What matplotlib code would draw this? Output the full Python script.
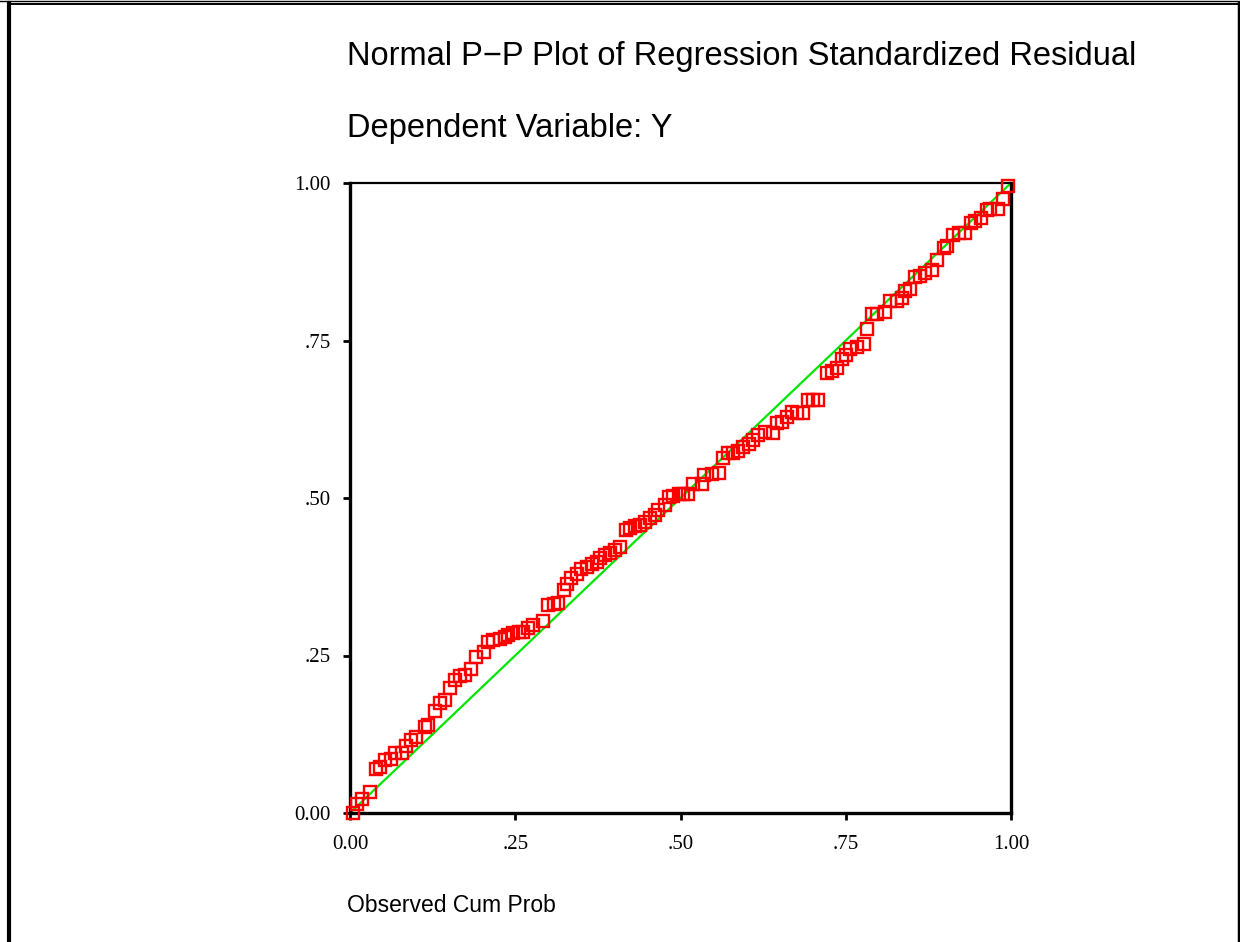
"""
Normal P-P plot of regression standardized residual (SPSS style).
"""
import matplotlib
matplotlib.use("Agg")
import matplotlib.pyplot as plt
from matplotlib.lines import Line2D

# --------------------------- Data --------------------------- #
obs_cum_prob = [
    0.004, 0.011, 0.018, 0.031, 0.039, 0.045, 0.053, 0.062, 0.068, 0.078,
    0.085, 0.092, 0.100, 0.113, 0.118, 0.129, 0.136, 0.144, 0.151, 0.159,
    0.166, 0.174, 0.183, 0.191, 0.202, 0.209, 0.217, 0.227, 0.234, 0.239,
    0.247, 0.255, 0.262, 0.270, 0.277, 0.292, 0.300, 0.308, 0.315,
    0.323, 0.328, 0.335, 0.343, 0.350, 0.358, 0.366, 0.373, 0.378, 0.386,
    0.393, 0.401, 0.408, 0.418, 0.424, 0.431, 0.439, 0.446, 0.454, 0.461,
    0.466, 0.477, 0.482, 0.489, 0.497, 0.504, 0.512, 0.519, 0.532, 0.536,
    0.547, 0.559, 0.565, 0.572, 0.580, 0.587, 0.595, 0.603, 0.610, 0.618,
    0.628, 0.640, 0.646, 0.653, 0.661, 0.668, 0.676, 0.686, 0.693, 0.701,
    0.708, 0.721, 0.729, 0.737, 0.744, 0.751, 0.756, 0.767, 0.777, 0.782,
    0.790, 0.797, 0.809, 0.817, 0.827, 0.835, 0.840, 0.847, 0.855, 0.862,
    0.870, 0.880, 0.888, 0.898, 0.903, 0.912, 0.921, 0.930, 0.940, 0.946,
    0.955, 0.963, 0.968, 0.981, 0.988, 0.996,
]
exp_cum_prob = [
    0.000, 0.014, 0.022, 0.034, 0.070, 0.073, 0.084, 0.085, 0.095, 0.095,
    0.107, 0.116, 0.120, 0.136, 0.140, 0.162, 0.174, 0.179, 0.198, 0.211,
    0.217, 0.219, 0.228, 0.248, 0.256, 0.272, 0.275, 0.276, 0.280, 0.283,
    0.286, 0.287, 0.288, 0.293, 0.298, 0.305, 0.330, 0.332, 0.333,
    0.354, 0.363, 0.373, 0.380, 0.388, 0.391, 0.395, 0.399, 0.404, 0.410,
    0.412, 0.417, 0.423, 0.450, 0.453, 0.455, 0.457, 0.462, 0.468, 0.473,
    0.481, 0.489, 0.501, 0.503, 0.506, 0.507, 0.507, 0.523, 0.523, 0.537,
    0.538, 0.539, 0.563, 0.571, 0.572, 0.574, 0.581, 0.586, 0.592, 0.600,
    0.604, 0.603, 0.619, 0.621, 0.629, 0.637, 0.635, 0.635, 0.656, 0.656,
    0.656, 0.699, 0.702, 0.706, 0.720, 0.727, 0.737, 0.740, 0.745, 0.768,
    0.792, 0.792, 0.795, 0.812, 0.813, 0.817, 0.828, 0.831, 0.851, 0.852,
    0.857, 0.862, 0.878, 0.897, 0.900, 0.917, 0.920, 0.920, 0.936, 0.939,
    0.944, 0.957, 0.958, 0.958, 0.974, 0.996,
]
ref_line = [0.0, 1.0]
tick_vals = [0.0, 0.25, 0.5, 0.75, 1.0]
tick_labels = ["0.00", ".25", ".50", ".75", "1.00"]

W, H = 1240, 942


def fx(px):
    return px / W


def fy(py):
    return 1 - py / H


fig = plt.figure(figsize=(W / 100, H / 100), dpi=100)
ax = fig.add_axes([fx(350), fy(813), 661 / W, 630 / H])

ax.plot(ref_line, ref_line, color="#00e600", lw=1.6, zorder=2)
ax.plot(obs_cum_prob, exp_cum_prob, ls="none", marker="s", ms=9.3,
        mfc="none", mec="#ff0000", mew=1.7, clip_on=False, zorder=3)

ax.set_xlim(0, 1)
ax.set_ylim(0, 1)
ax.set_xticks(tick_vals)
ax.set_xticklabels(tick_labels)
ax.set_yticks(tick_vals)
ax.set_yticklabels(tick_labels)
for lab in ax.get_xticklabels() + ax.get_yticklabels():
    lab.set_family("Liberation Serif")
    lab.set_fontsize(15)
ax.tick_params(axis="both", direction="out", length=5, width=2, color="black")
ax.tick_params(axis="y", pad=9)
ax.tick_params(axis="x", pad=11)
for side in ["left", "bottom", "right"]:
    ax.spines[side].set_linewidth(2.4)
ax.spines["top"].set_linewidth(1.6)

sans = "Liberation Sans"
fig.text(fx(347), fy(56), "Normal P\u2212P Plot of Regression Standardized Residual",
         family=sans, fontsize=23.5, ha="left", va="center")
fig.text(fx(347), fy(128), "Dependent Variable: Y",
         family=sans, fontsize=23.5, ha="left", va="center")
fig.text(fx(347), fy(906), "Observed Cum Prob",
         family=sans, fontsize=16.5, ha="left", va="center")

# outer frame (left, right, double top line)
frame = [
    ([fx(9), fx(9)], [fy(3), 0], 3),
    ([fx(1238.5), fx(1238.5)], [fy(3), 0], 2.5),
    ([0, 1], [fy(0.6), fy(0.6)], 1.0),
    ([fx(9), fx(1238.5)], [fy(3.8), fy(3.8)], 1.4),
]
for xs, ys, lw in frame:
    fig.add_artist(Line2D(xs, ys, color="black", lw=lw, transform=fig.transFigure))

fig.savefig("out.png", dpi=100)
